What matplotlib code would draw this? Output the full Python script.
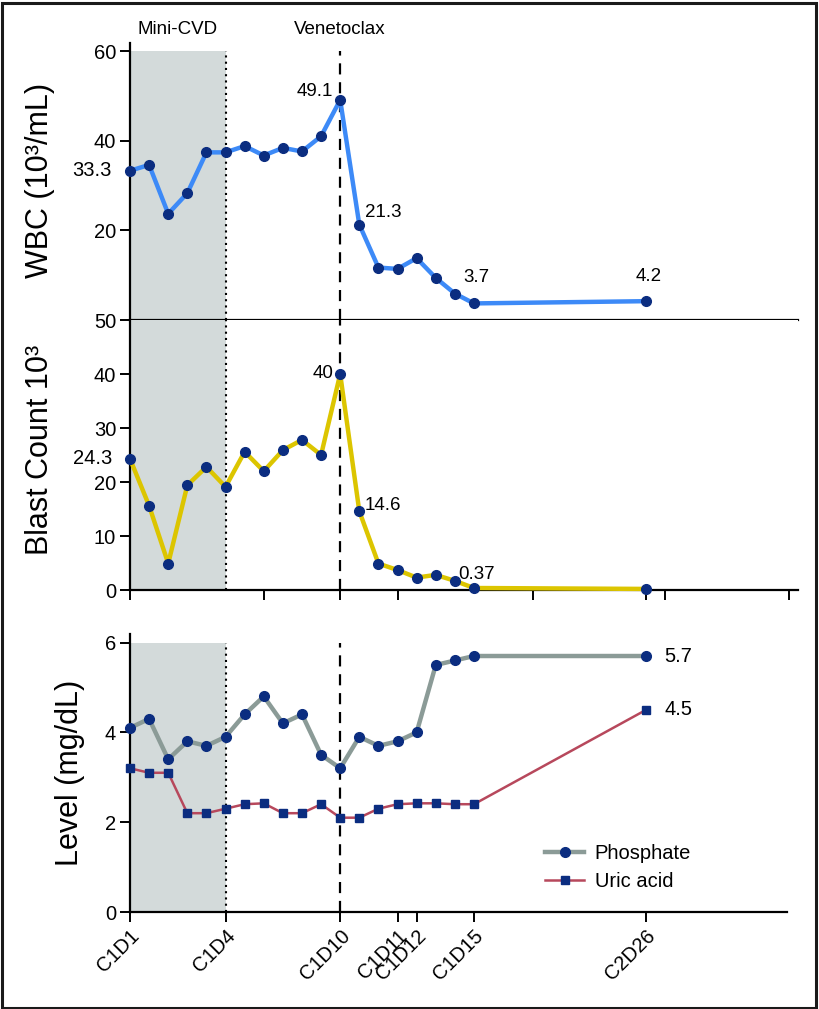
import matplotlib
matplotlib.use('Agg')
import matplotlib.pyplot as plt
from matplotlib.lines import Line2D
from matplotlib.patches import Rectangle

plt.rcParams['font.family'] = ['Liberation Sans', 'DejaVu Sans']

# sample positions (one step per draw, last one is C2D26)
pos = [0, 1, 2, 3, 4, 5, 6, 7, 8, 9, 10, 11, 12, 13, 14, 15, 16, 17, 18, 27]
wbc = [33.3, 34.6, 23.7, 28.3, 37.4, 37.4, 38.8, 36.7, 38.4, 37.6, 41.0, 49.1,
       21.3, 11.7, 11.4, 13.8, 9.4, 5.9, 3.7, 4.2]
blast = [24.3, 15.6, 4.9, 19.4, 22.8, 19.1, 25.6, 22.0, 25.9, 27.8, 25.0, 40.0,
         14.6, 4.9, 3.7, 2.3, 2.8, 1.7, 0.37, 0.2]
phosphate = [4.1, 4.3, 3.4, 3.8, 3.7, 3.9, 4.4, 4.8, 4.2, 4.4, 3.5, 3.2,
             3.9, 3.7, 3.8, 4.0, 5.5, 5.6, 5.7, 5.7]
uric = [3.2, 3.1, 3.1, 2.2, 2.2, 2.3, 2.4, 2.42, 2.2, 2.2, 2.4, 2.1,
        2.1, 2.3, 2.4, 2.42, 2.42, 2.4, 2.4, 4.5]

day_labels = ['C1D1', 'C1D4', 'C1D10', 'C1D11', 'C1D12', 'C1D15', 'C2D26']
day_pos = [0, 5, 11, 14, 15, 18, 27]
minor_tick_pos = [0, 7, 11, 14, 21.1, 27, 28, 34.5]

chemo_end = 5
ven_start = 11

navy = '#0b2d80'
blue = '#3d8af7'
yellow = '#dcc500'
grey = '#8b9b97'
red = '#b7485c'
shade = '#d3dada'

W, H = 819, 1009
fig = plt.figure(figsize=(W / 100, H / 100), dpi=100)


def rect(x0, y_top, x1, y_bot):
    return [x0 / W, 1 - y_bot / H, (x1 - x0) / W, (y_bot - y_top) / H]


ax1 = fig.add_axes(rect(130, 43, 798, 320))
ax2 = fig.add_axes(rect(130, 320, 798, 590))
ax3 = fig.add_axes(rect(130, 634, 787, 912))

TS = 14.5   # tick label size
AS = 13.5   # annotation size

for ax in (ax1, ax2, ax3):
    for s in ('top', 'right'):
        ax.spines[s].set_visible(False)
    ax.spines['left'].set_linewidth(1.6)
    ax.spines['bottom'].set_linewidth(1.6)
    ax.tick_params(width=1.4, length=7, labelsize=TS, pad=3)

# --- WBC ---
ax1.set_xlim(0, 34.96)
ax1.set_ylim(0, 61.8)
ax1.fill_between([0, chemo_end], 0, 60, color=shade, zorder=0, lw=0)
ax1.vlines(chemo_end, 0, 60, colors='k', linestyles=(0, (1, 2)), lw=1.5)
ax1.vlines(ven_start, 0, 60, colors='k', linestyles=(0, (5, 3.5)), lw=1.6)
ax1.plot(pos, wbc, color=blue, lw=3.2, marker='o', ms=7, mfc=navy, mec=navy,
         clip_on=False, zorder=3)
ax1.set_yticks([20, 40, 60])
ax1.set_xticks(minor_tick_pos)
ax1.set_xticklabels([])
ax1.text(-0.95, wbc[0], '33.3', ha='right', va='center', fontsize=TS)
ax1.annotate('49.1', (pos[11], wbc[11]), xytext=(-5, 6), textcoords='offset points',
             ha='right', va='center', fontsize=AS)
ax1.annotate('21.3', (pos[12], wbc[12]), xytext=(4, 9), textcoords='offset points',
             ha='left', va='center', fontsize=AS)
ax1.annotate('3.7', (pos[18], wbc[18]), xytext=(2, 19), textcoords='offset points',
             ha='center', va='center', fontsize=AS)
ax1.annotate('4.2', (pos[19], wbc[19]), xytext=(2, 18), textcoords='offset points',
             ha='center', va='center', fontsize=AS)

# --- Blast count ---
ax2.set_xlim(0, 34.96)
ax2.set_ylim(0, 50)
ax2.fill_between([0, chemo_end], 0, 50, color=shade, zorder=0, lw=0)
ax2.vlines(chemo_end, 0, 50, colors='k', linestyles=(0, (1, 2)), lw=1.5)
ax2.vlines(ven_start, 0, 50, colors='k', linestyles=(0, (5, 3.5)), lw=1.6)
ax2.plot(pos, blast, color=yellow, lw=3.2, marker='o', ms=7, mfc=navy, mec=navy,
         clip_on=False, zorder=3)
ax2.set_yticks([0, 10, 20, 30, 40, 50])
ax2.set_xticks(minor_tick_pos)
ax2.set_xticklabels([])
ax2.text(-0.95, blast[0], '24.3', ha='right', va='center', fontsize=TS)
ax2.annotate('40', (pos[11], blast[11]), xytext=(-5, 0), textcoords='offset points',
             ha='right', va='center', fontsize=AS)
ax2.annotate('14.6', (pos[12], blast[12]), xytext=(4, 4), textcoords='offset points',
             ha='left', va='center', fontsize=AS)
ax2.annotate('0.37', (pos[18], blast[18]), xytext=(-11, 10), textcoords='offset points',
             ha='left', va='center', fontsize=AS)

# --- Phosphate / uric acid ---
ax3.set_xlim(0, 34.38)
ax3.set_ylim(0, 6.19)
ax3.fill_between([0, chemo_end], 0, 6, color=shade, zorder=0, lw=0)
ax3.vlines(chemo_end, 0, 6, colors='k', linestyles=(0, (1, 2)), lw=1.5)
ax3.vlines(ven_start, 0, 6, colors='k', linestyles=(0, (5, 3.5)), lw=1.6)
ax3.plot(pos, phosphate, color=grey, lw=3.2, marker='o', ms=7, mfc=navy, mec=navy,
         clip_on=False, zorder=3)
ax3.plot(pos, uric, color=red, lw=1.8, marker='s', ms=5.5, mfc=navy, mec=navy,
         clip_on=False, zorder=3)
ax3.set_yticks([0, 2, 4, 6])
ax3.set_xticks(day_pos)
ax3.set_xticklabels(day_labels, rotation=45, ha='right', rotation_mode='anchor',
                    fontsize=TS)
ax3.annotate('5.7', (pos[19], phosphate[19]), xytext=(13, 0), textcoords='offset points',
             ha='left', va='center', fontsize=TS)
ax3.annotate('4.5', (pos[19], uric[19]), xytext=(13, 0), textcoords='offset points',
             ha='left', va='center', fontsize=TS)

handles = [Line2D([], [], color=grey, lw=3.2, marker='o', ms=7, mfc=navy, mec=navy),
           Line2D([], [], color=red, lw=1.8, marker='s', ms=5.5, mfc=navy, mec=navy)]
ax3.legend(handles, ['Phosphate', 'Uric acid'], loc='upper left',
           bbox_to_anchor=(0.617, 0.28), frameon=False, borderpad=0,
           handlelength=1.9, handletextpad=0.55, labelspacing=0.45, fontsize=TS)

# axis titles and phase labels
label_font = ['Liberation Sans Narrow', 'Liberation Sans', 'DejaVu Sans']
fig.text(40 / W, 1 - 180 / H, 'WBC (10³/mL)', rotation=90, ha='center', va='center',
         fontsize=22, family=label_font)
fig.text(40 / W, 1 - 450 / H, 'Blast Count 10³', rotation=90, ha='center', va='center',
         fontsize=22, family=label_font)
fig.text(70 / W, 1 - 773 / H, 'Level (mg/dL)', rotation=90, ha='center', va='center',
         fontsize=22, family=label_font)
fig.text(178 / W, 1 - 30 / H, 'Mini-CVD', ha='center', va='center', fontsize=AS)
fig.text(340 / W, 1 - 30 / H, 'Venetoclax', ha='center', va='center', fontsize=AS)

# outer frame
fig.patches.append(Rectangle((1.5 / W, 1.5 / H), 814 / W, 1005 / H, fill=False,
                             lw=2.2, edgecolor='#1a1a1a', transform=fig.transFigure))

fig.savefig('out.png', dpi=100)
